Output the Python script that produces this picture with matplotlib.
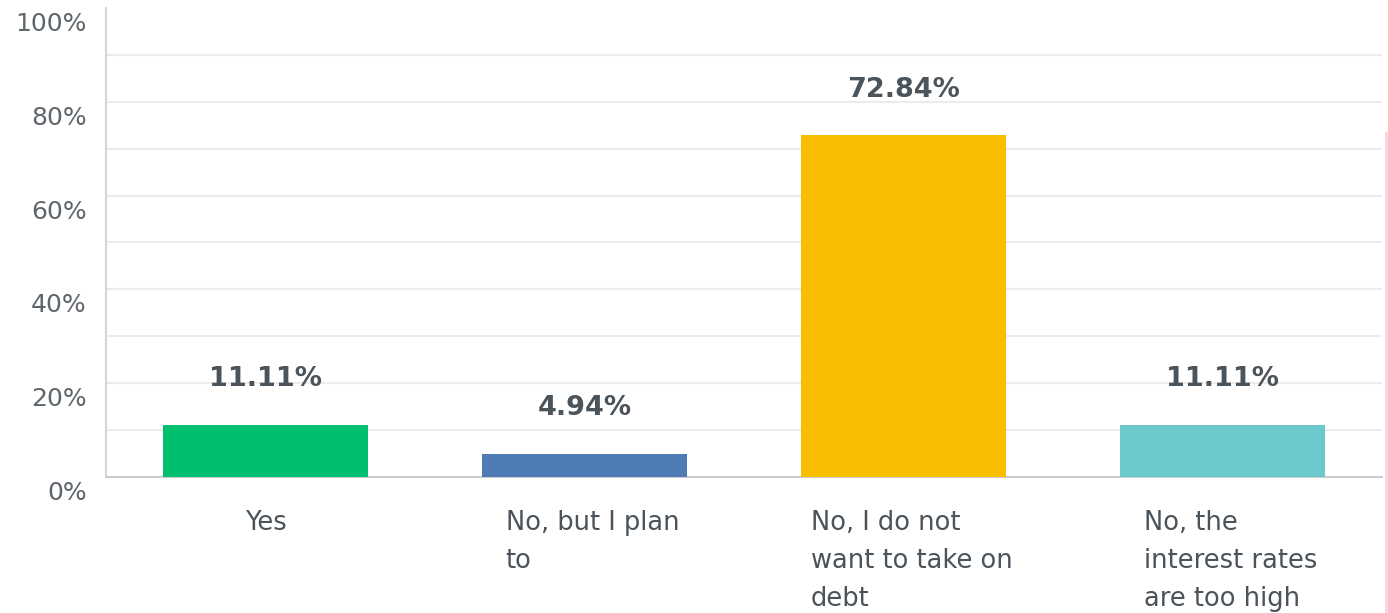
import numpy as np
import matplotlib.pyplot as plt
import matplotlib.transforms as mtransforms
from matplotlib.lines import Line2D

categories = ["Yes", "No, but I plan\nto", "No, I do not\nwant to take on\ndebt",
              "No, the\ninterest rates\nare too high"]
values = [11.11, 4.94, 72.84, 11.11]
colors = ["#00BF6F", "#507CB6", "#F9BE00", "#6BC8CD"]
yticks = [0, 20, 40, 60, 80, 100]

plt.rcParams['font.family'] = ['DejaVu Sans']

fig = plt.figure(figsize=(13.88, 6.13), dpi=100)
ax = fig.add_axes([106 / 1388, 1 - 477 / 613, 1276 / 1388, 469 / 613])

x = np.arange(len(categories))
ax.bar(x, values, width=0.64, color=colors, zorder=3)

for xi, v in zip(x, values):
    ax.annotate(f"{v:.2f}%", (xi, v), xytext=(0, 33), textcoords="offset points",
                ha="center", va="center", fontsize=19.5, fontweight="bold", color="#4b535b")

ax.set_xlim(-0.5, 3.5)
ax.set_ylim(0, 100)

# light grid every 10%, no line at the top
for g in range(10, 100, 10):
    ax.axhline(g, color="#ececec", lw=1.5, zorder=1)

ax.set_yticks(yticks)
ax.set_yticklabels([f"{t}%" for t in yticks])
ax.tick_params(axis="y", length=0, pad=14, labelsize=18, labelcolor="#5f666c")
shift = mtransforms.ScaledTranslation(0, -4 / 100, fig.dpi_scale_trans)
for lab in ax.get_yticklabels():
    lab.set_verticalalignment("top")
    lab.set_transform(lab.get_transform() + shift)

ax.set_xticks(x)
ax.set_xticklabels(categories, multialignment="left", linespacing=1.58)
ax.tick_params(axis="x", length=0, pad=24, labelsize=18.5, labelcolor="#4b535b")
# wrapped labels sit a bit right of the bar centre
xshift = mtransforms.ScaledTranslation(8 / 100, 0, fig.dpi_scale_trans)
for lab in ax.get_xticklabels():
    if "\n" in lab.get_text():
        lab.set_transform(lab.get_transform() + xshift)

for s in ["top", "right"]:
    ax.spines[s].set_visible(False)
ax.spines["left"].set_color("#d4d4d4")
ax.spines["bottom"].set_color("#cccccc")
ax.spines["left"].set_linewidth(1.5)
ax.spines["bottom"].set_linewidth(1.5)

fig.add_artist(Line2D([1386 / 1388, 1386 / 1388], [0, 1 - 133 / 613], color="#ffd0e4", lw=2))

fig.savefig("out.png", dpi=100)
